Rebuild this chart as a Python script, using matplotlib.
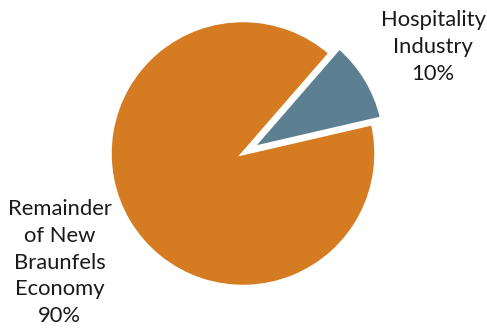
import matplotlib.pyplot as plt

categories = ["Hospitality\nIndustry", "Remainder\nof New\nBraunfels\nEconomy"]
shares = [10, 90]
colors = ["#5C8092", "#D57C23"]

plt.rcParams['font.family'] = ['Lato', 'DejaVu Sans']

fig = plt.figure(figsize=(4.87, 3.32), dpi=100)
ax = fig.add_axes([0, 0, 1, 1])

labels = [f"{c}\n{v}%" for c, v in zip(categories, shares)]
wedges, texts = ax.pie(shares, labels=labels, colors=colors,
                       startangle=49, counterclock=False,
                       explode=[0.08, 0],
                       wedgeprops=dict(edgecolor='white', linewidth=2.5),
                       textprops=dict(fontsize=15.8, color='#1a1a1a'))

# label centres, in pie-radius units
label_pos = [(1.43, 0.80), (-1.38, -0.82)]
for t, pos in zip(texts, label_pos):
    t.set_position(pos)
    t.set_ha('center')
    t.set_va('center')
    t.set_linespacing(1.42)

# pie centre at pixel (243, 153.5), radius 133 px
cx, cy, r = 243, 153.5, 133
ax.set_aspect('equal')
ax.set_xlim(-cx / r, (487 - cx) / r)
ax.set_ylim(-(332 - cy) / r, cy / r)
ax.axis('off')

fig.savefig("out.png", dpi=100)
